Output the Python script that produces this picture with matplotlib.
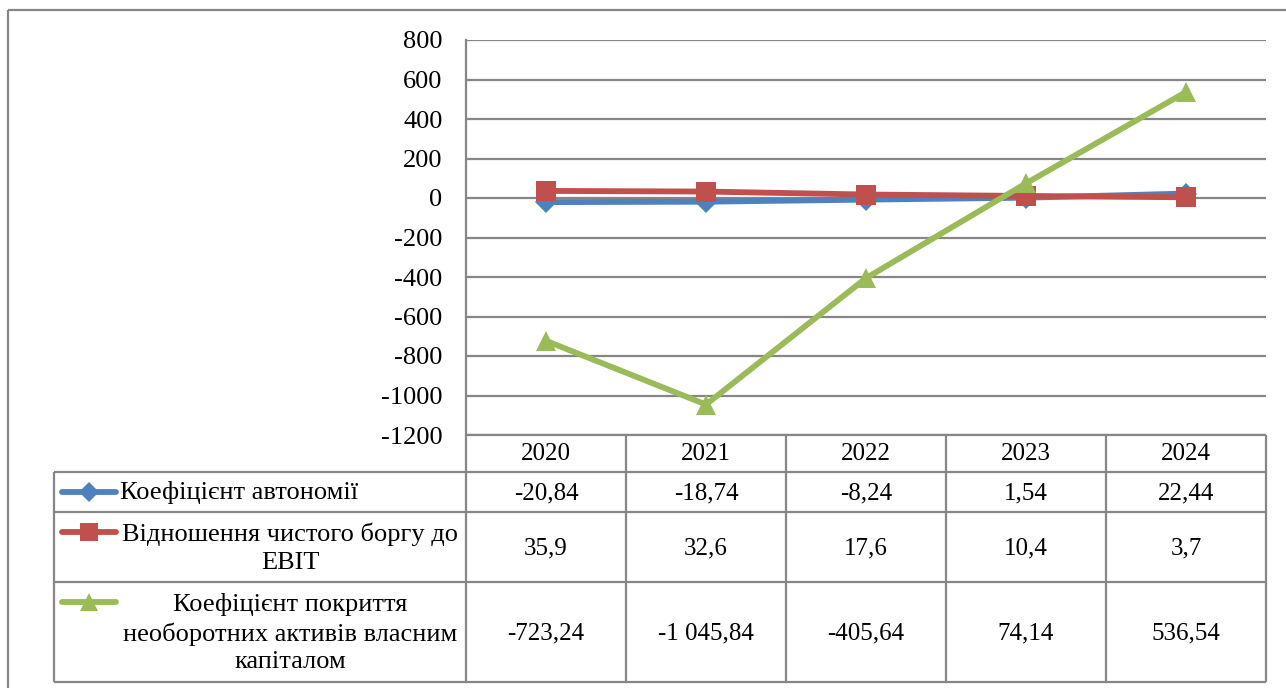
import matplotlib.pyplot as plt
import matplotlib.lines as mlines

plt.rcParams['font.family'] = ['Liberation Serif', 'DejaVu Serif']

years = ['2020', '2021', '2022', '2023', '2024']
autonomy = [-20.84, -18.74, -8.24, 1.54, 22.44]
debt_ebit = [35.9, 32.6, 17.6, 10.4, 3.7]
coverage = [-723.24, -1045.84, -405.64, 74.14, 536.54]

series_names = ['Коефіцієнт автономії',
                'Відношення чистого боргу до\nEBIT',
                'Коефіцієнт покриття\nнеоборотних активів власним\nкапіталом']
series_values = [autonomy, debt_ebit, coverage]
colors = ['#4F81BD', '#C0504D', '#9BBB59']
markers = ['D', 's', '^']
marker_sizes = [11, 14, 15]

y_ticks = list(range(-1200, 801, 200))

W, H = 1286, 688
grid_color = '#868686'


def fmt(v):
    # comma decimal separator, space for thousands
    return f'{v:,}'.replace(',', ' ').replace('.', ',')


fig = plt.figure(figsize=(W / 100, H / 100), dpi=100)

# plot area: x 466..1266, y 40..435 (pixels)
px0, px1, py0, py1 = 466, 1266, 40, 435
ax = fig.add_axes([px0 / W, 1 - py1 / H, (px1 - px0) / W, (py1 - py0) / H])
x = list(range(len(years)))
for vals, c, m, ms in zip(series_values, colors, markers, marker_sizes):
    ax.plot(x, vals, color=c, lw=4.2, marker=m, markersize=ms,
            markeredgewidth=0, solid_capstyle='butt', zorder=3)
ax.set_xlim(-0.5, len(years) - 0.5)
ax.set_ylim(y_ticks[0], y_ticks[-1])
ax.set_yticks(y_ticks)
ax.set_yticklabels([str(t) for t in y_ticks], fontsize=19)
ax.set_xticks([])
ax.tick_params(axis='y', length=0, pad=17)
for t in y_ticks:
    ax.axhline(t, color=grid_color, lw=1.6, zorder=1)
for s in ['top', 'right', 'bottom']:
    ax.spines[s].set_visible(False)
ax.spines['left'].set_color(grid_color)
ax.spines['left'].set_linewidth(1.6)
ax.patch.set_alpha(0)

# data table drawn in pixel coordinates
tab = fig.add_axes([0, 0, 1, 1])
tab.set_xlim(0, W)
tab.set_ylim(H, 0)
tab.axis('off')
tab.patch.set_alpha(0)

col_edges = [px0 + i * 160 for i in range(len(years) + 1)]
row_edges = [435, 472, 512, 582, 682]
left_x = 54


def hline(y, x0, x1):
    tab.plot([x0, x1], [y, y], color=grid_color, lw=1.6, solid_capstyle='butt')


def vline(x0, y0, y1):
    tab.plot([x0, x0], [y0, y1], color=grid_color, lw=1.6, solid_capstyle='butt')


# outer chart frame (top and left edges)
hline(10, 8, W)
vline(8, 10, H)

hline(row_edges[0], px0, px1)
for y in row_edges[1:]:
    hline(y, left_x, px1)
vline(left_x, row_edges[1], row_edges[-1])
for cx in col_edges:
    vline(cx, row_edges[0], row_edges[-1])

for i, yr in enumerate(years):
    cx = (col_edges[i] + col_edges[i + 1]) / 2
    tab.text(cx, (row_edges[0] + row_edges[1]) / 2 + 1, yr, ha='center', va='center', fontsize=18)

for r, (name, vals, c, m, ms) in enumerate(zip(series_names, series_values, colors, markers, marker_sizes)):
    y0, y1 = row_edges[r + 1], row_edges[r + 2]
    ym = (y0 + y1) / 2
    for i, v in enumerate(vals):
        cx = (col_edges[i] + col_edges[i + 1]) / 2
        tab.text(cx, ym + 1, fmt(v), ha='center', va='center', fontsize=18)
    # legend key
    ky = ym if r == 0 else y0 + 20
    tab.add_line(mlines.Line2D([62, 116], [ky, ky], color=c, lw=4.2, solid_capstyle='round'))
    tab.plot([89], [ky], marker=m, color=c, markersize=ms * 0.9, markeredgewidth=0)
    if r == 0:
        tab.text(120, ym + 1, name, ha='left', va='center', fontsize=19)
    else:
        tab.text(290, ym + 1, name, ha='center', va='center', fontsize=19,
                 multialignment='center', linespacing=1.35)

fig.savefig('out.png', dpi=100)
